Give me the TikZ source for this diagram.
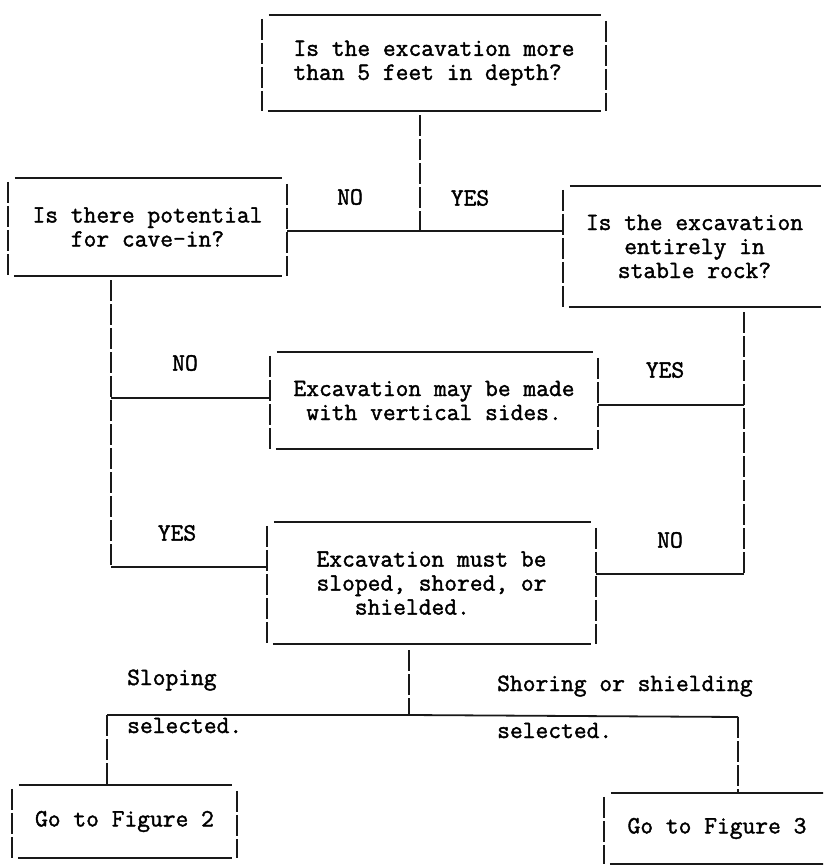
\documentclass[tikz,border=0pt]{standalone}
\usepackage{fontspec}
\setmonofont{Latin Modern Mono}[FakeBold=1.6]
\usetikzlibrary{positioning}

% sides of a typed box: solid top/bottom, broken sides
\newcommand{\boxlines}[1]{%
  \draw[hline] ([xshift=7pt]#1.north west) -- ([xshift=-5pt]#1.north east);
  \draw[hline] ([xshift=6pt]#1.south west) -- ([xshift=-5pt]#1.south east);
  \draw[vline] ([yshift=-4pt]#1.north west) -- (#1.south west);
  \draw[vline] ([yshift=-6pt]#1.north east) -- (#1.south east);
}

\begin{document}
\begin{tikzpicture}[
  x=1pt, y=-1pt,
  qbox/.style={
    rectangle, inner sep=0pt, align=center,
    font=\ttfamily\fontsize{24.8}{24}\selectfont
  },
  answer/.style={font=\ttfamily\fontsize{24.8}{24}\selectfont, inner sep=0pt},
  hline/.style={line width=1.8pt, draw=black!90},
  vline/.style={line width=1.6pt, draw=black!90, dash pattern=on 21pt off 3pt}
]

\clip (0,0) rectangle (823,865);

\node[qbox, align=left, minimum width=344pt, minimum height=96pt] (depth) at (434,63) {Is the excavation more\\than 5 feet in depth?};
\node[qbox, minimum width=279pt, minimum height=98pt] (cavein) at (147.5,227) {Is there potential\\for cave-in?};
\node[qbox, minimum width=263pt, minimum height=121pt] (rock) at (694.5,246.5) {Is the excavation\\entirely in\\stable rock?};
\node[qbox, minimum width=328pt, minimum height=97pt] (vsides) at (434,400.5) {Excavation may be made\\with vertical sides.};
\node[qbox, align=left, minimum width=329pt, minimum height=122pt, text depth=0pt] (sloped) at (431.5,583) {Excavation must be\\sloped, shored, or\\\phantom{XXX}shielded.};
\node[qbox, minimum width=225pt, minimum height=73pt] (fig2) at (124.5,821.5) {Go to Figure 2};
\node[qbox, minimum width=226pt, minimum height=71pt] (fig3) at (717,828.5) {Go to Figure 3};

\boxlines{depth}
\boxlines{cavein}
\boxlines{rock}
\boxlines{vsides}
\boxlines{sloped}
\boxlines{fig2}
\boxlines{fig3}

\node[answer] (no1) at (350,197) {NO};
\node[answer] (yes1) at (470,198) {YES};
\node[answer] (no2) at (185,363) {NO};
\node[answer] (yes2) at (665,370) {YES};
\node[answer] (yes3) at (177,533) {YES};
\node[answer] (no3) at (670,540) {NO};
\node[answer, anchor=base west] (slope1) at (127,685) {Sloping};
\node[answer, anchor=base west] (slope2) at (127,733) {selected.};
\node[answer, anchor=base west] (shore1) at (497,691) {Shoring or shielding};
\node[answer, anchor=base west] (shore2) at (497,738) {selected.};

\coordinate (top) at (420,231);
\coordinate (lno) at (111,398);
\coordinate (lyes) at (111,567);
\coordinate (ryes) at (744,405);
\coordinate (rno) at (744,574);
\coordinate (fork) at (409,715);
\coordinate (lsel) at (107,715);
\coordinate (rsel) at (738,717);

\draw[vline] (depth.south -| top) ++(0,4) -- (top);
\draw[hline] (top) -- (top -| cavein.east);
\draw[hline] (top) -- (top -| rock.west);

\draw[vline] (cavein.south -| lno) ++(0,4) -- (lyes);
\draw[hline] (lno) -- (lno -| vsides.west);
\draw[hline] (lyes) -- (lyes -| sloped.west);

\draw[vline] (rock.south -| ryes) ++(0,5) -- (rno);
\draw[hline] (ryes) -- (ryes -| vsides.east);
\draw[hline] (rno) -- (rno -| sloped.east);

\draw[vline] (sloped.south -| fork) ++(0,6) -- (fork);
\draw[hline] (fork) -- (lsel);
\draw[hline] (fork) -- (rsel);
\draw[vline] (lsel) -- (lsel |- fig2.north);
\draw[vline] (rsel) -- (rsel |- fig3.north);

\end{tikzpicture}
\end{document}
